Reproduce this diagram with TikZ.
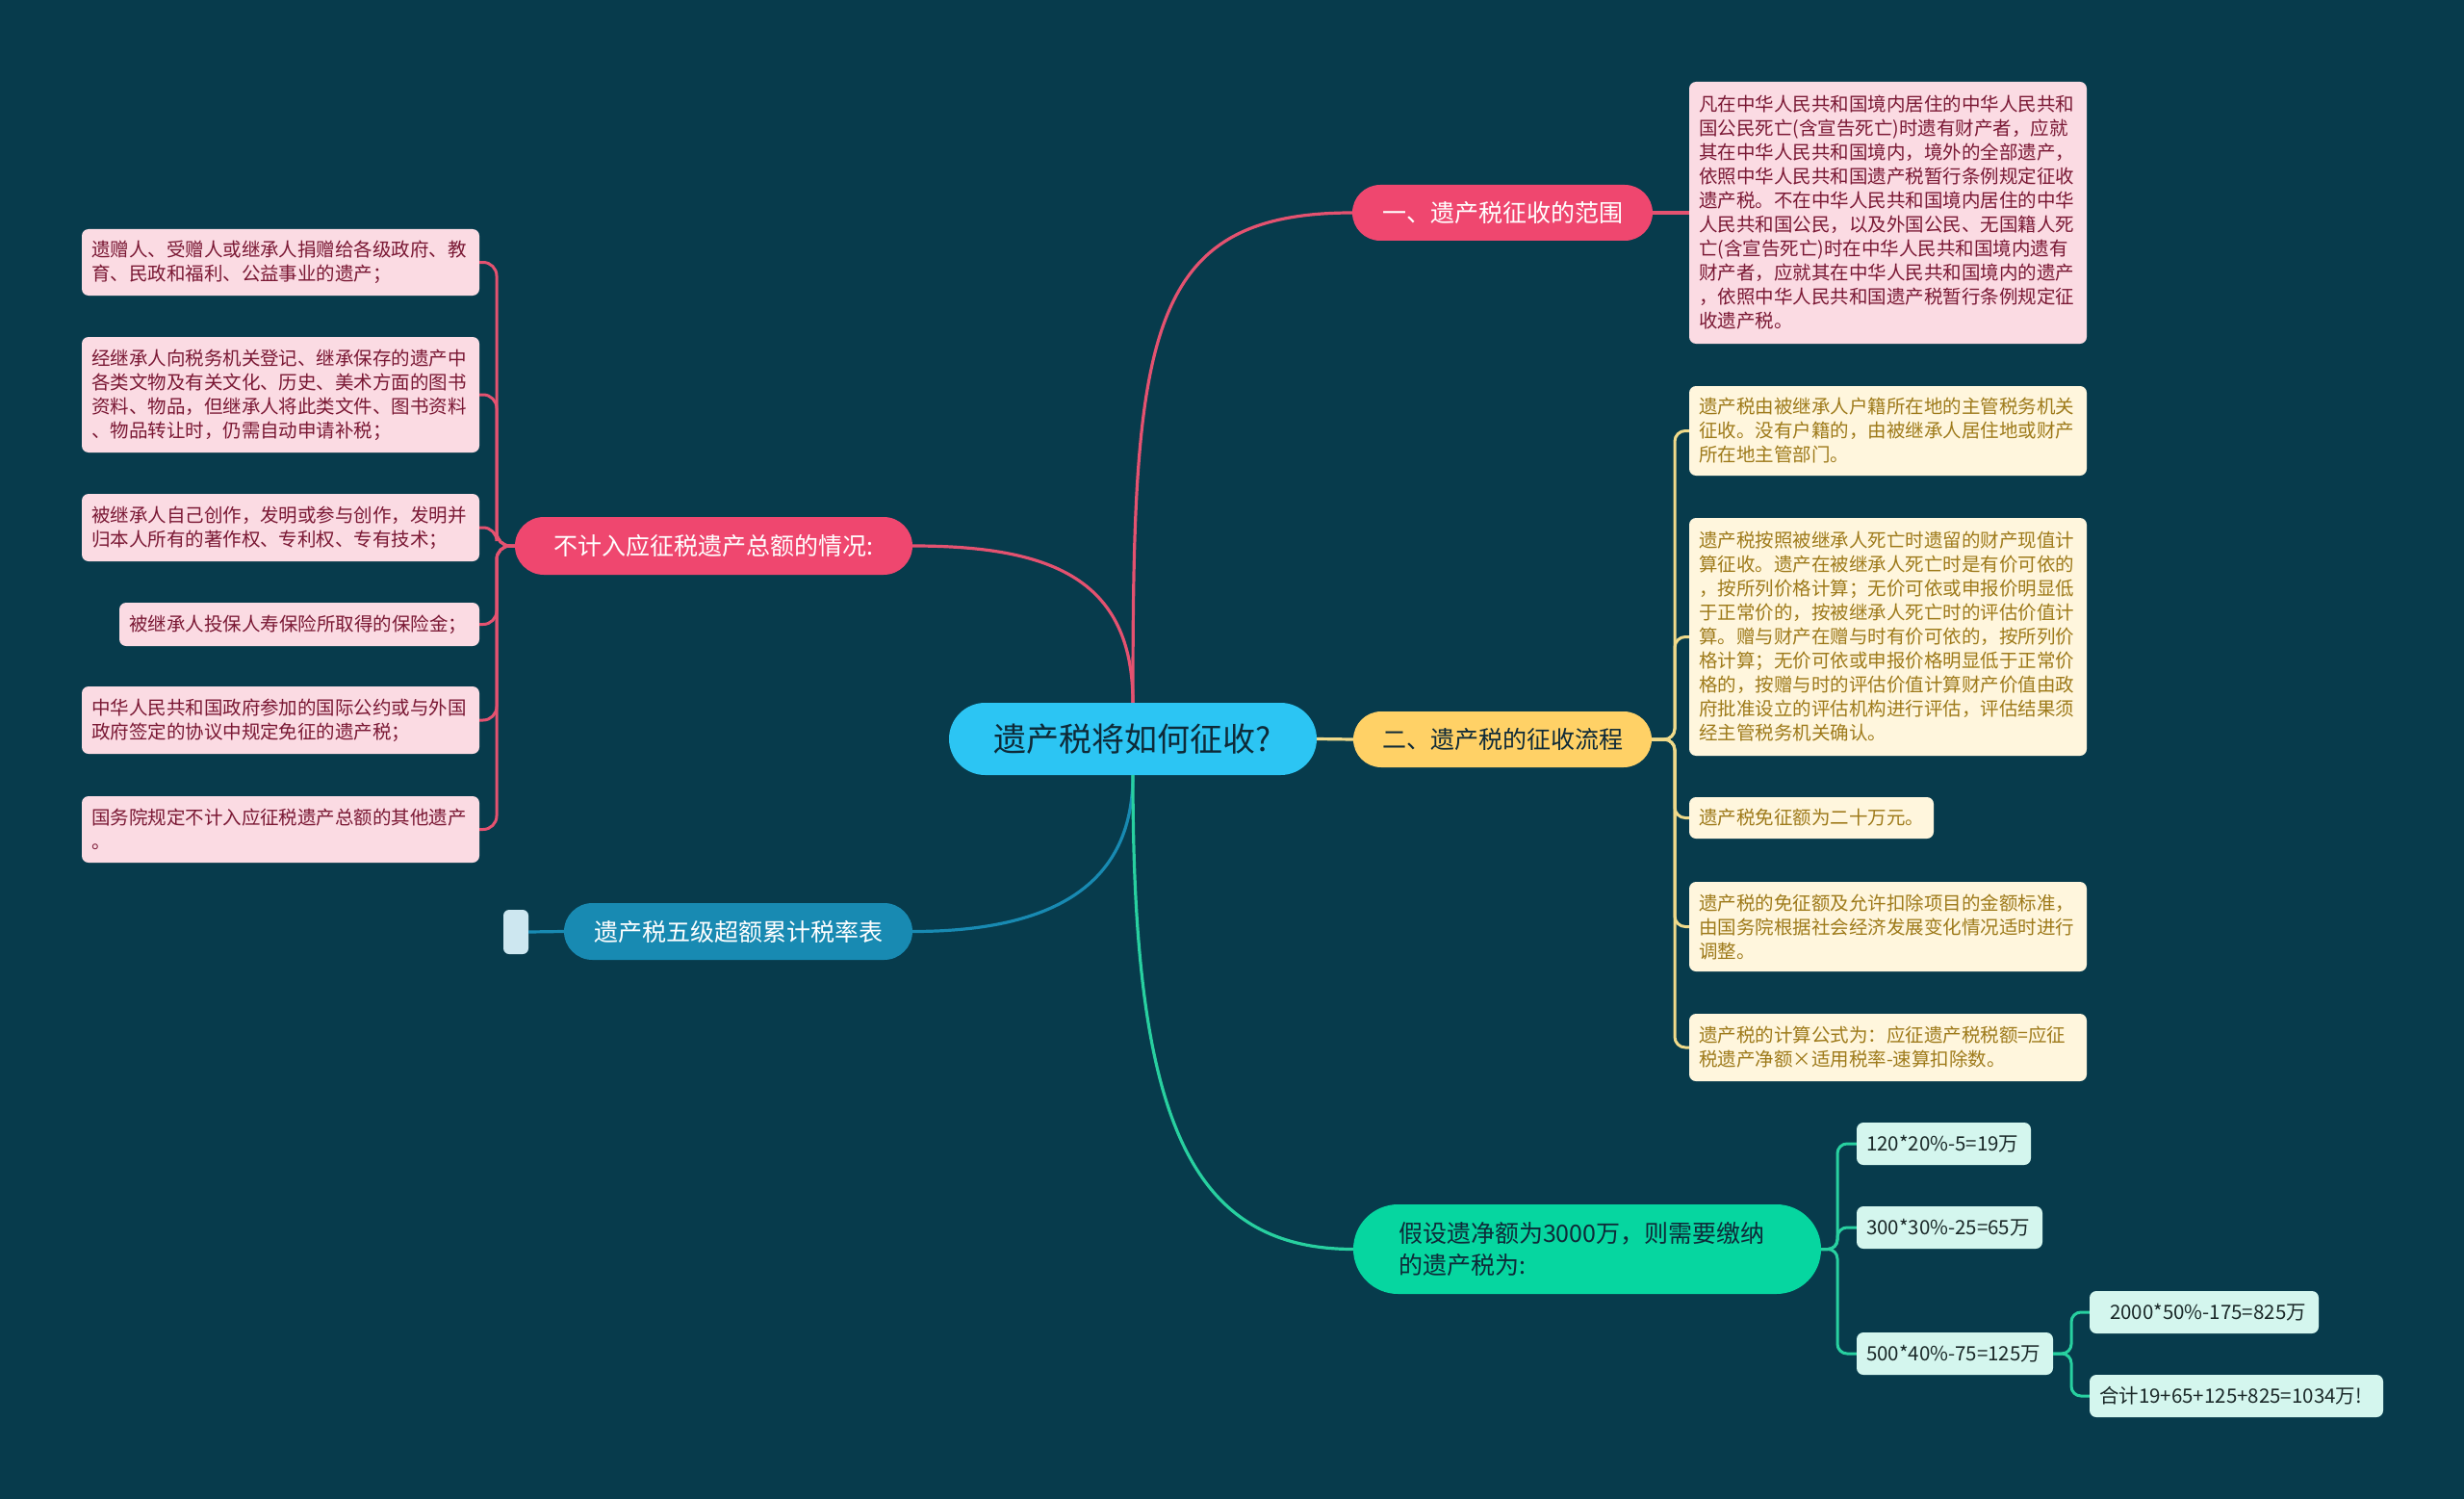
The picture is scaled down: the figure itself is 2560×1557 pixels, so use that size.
\documentclass[tikz,border=0pt]{standalone}
\usepackage{fontspec}
\setmainfont{Noto Sans CJK SC}
\usetikzlibrary{shapes.misc}
\definecolor{bgc}{RGB}{7,59,76}
\definecolor{cenc}{RGB}{44,197,243}
\definecolor{pinkc}{RGB}{239,71,111}
\definecolor{yelc}{RGB}{255,209,102}
\definecolor{grnc}{RGB}{6,214,160}
\definecolor{bluc}{RGB}{24,138,178}
\definecolor{pinkbg}{RGB}{251,219,227}
\definecolor{pinktx}{RGB}{122,24,52}
\definecolor{yelbg}{RGB}{255,246,221}
\definecolor{yeltx}{RGB}{158,122,26}
\definecolor{grnbg}{RGB}{212,246,238}
\definecolor{grntx}{RGB}{26,40,40}
\definecolor{darktx}{RGB}{14,42,56}
\definecolor{sqc}{RGB}{205,231,240}
\definecolor{pinkln}{RGB}{228,82,112}
\definecolor{yelln}{RGB}{240,218,138}
\definecolor{grnln}{RGB}{40,208,160}
\tikzset{
  pill/.style={rounded rectangle, inner xsep=0, inner ysep=0, minimum height=58, font=\fontsize{25}{30}\selectfont},
  detail/.style={rounded corners=7, inner xsep=10, inner ysep=3, align=left, font=\fontsize{19.5}{25}\selectfont},
  pinkd/.style={detail, fill=pinkbg, text=pinktx},
  yeld/.style={detail, fill=yelbg, text=yeltx},
  greend/.style={detail, fill=grnbg, text=grntx, font=\fontsize{20.5}{25}\selectfont, minimum height=44},
  mainln/.style={line width=3.2},
  pinkln2/.style={draw=pinkln, line width=3, rounded corners=14},
  yelln2/.style={draw=yelln, line width=3, rounded corners=11},
  grnln2/.style={draw=grnln, line width=3, rounded corners=10},
}
\begin{document}
\begin{tikzpicture}[x=1pt,y=-1pt]
\fill[bgc] (0,0) rectangle (2560,1557);
\useasboundingbox (0,0) rectangle (2560,1557);

% central and main branches
\node[pill, fill=cenc, text=darktx, minimum width=382, minimum height=75, font=\fontsize{34}{40}\selectfont] (c) at (1177,767.5) {遗产税将如何征收?};
\node[pill, fill=pinkc, text=white, minimum width=312] (b1) at (1561,221) {一、遗产税征收的范围};
\node[pill, fill=yelc, text=darktx, minimum width=310] (b2) at (1561,768) {二、遗产税的征收流程};
\node[pill, fill=grnc, text=darktx, minimum width=486, minimum height=93, align=left, text width=392, font=\fontsize{25}{33}\selectfont] (b3) at (1649,1297.5) {假设遗净额为3000万，则需要缴纳\\的遗产税为:};
\node[pill, fill=pinkc, text=white, minimum width=413, minimum height=60] (bl) at (741.5,567) {不计入应征税遗产总额的情况:};
\node[pill, fill=bluc, text=white, minimum width=362, minimum height=59] (bb) at (767,967.5) {遗产税五级超额累计税率表};
\node[fill=sqc, rounded corners=6, minimum width=26, minimum height=46, inner sep=0] (sq) at (536,968) {};

% right pink detail
\node[pinkd, text width=393, minimum height=272] (p1) at (1961.5,221) {凡在中华人民共和国境内居住的中华人民共和\\国公民死亡(含宣告死亡)时遗有财产者，应就\\其在中华人民共和国境内，境外的全部遗产，\\依照中华人民共和国遗产税暂行条例规定征收\\遗产税。不在中华人民共和国境内居住的中华\\人民共和国公民，以及外国公民、无国籍人死\\亡(含宣告死亡)时在中华人民共和国境内遗有\\财产者，应就其在中华人民共和国境内的遗产\\，依照中华人民共和国遗产税暂行条例规定征\\收遗产税。};

% yellow details
\node[yeld, text width=393, minimum height=93] (y1) at (1961.5,447.5) {遗产税由被继承人户籍所在地的主管税务机关\\征收。没有户籍的，由被继承人居住地或财产\\所在地主管部门。};
\node[yeld, text width=393, minimum height=247] (y2) at (1961.5,661.5) {遗产税按照被继承人死亡时遗留的财产现值计\\算征收。遗产在被继承人死亡时是有价可依的\\，按所列价格计算；无价可依或申报价明显低\\于正常价的，按被继承人死亡时的评估价值计\\算。赠与财产在赠与时有价可依的，按所列价\\格计算；无价可依或申报价格明显低于正常价\\格的，按赠与时的评估价值计算财产价值由政\\府批准设立的评估机构进行评估，评估结果须\\经主管税务机关确认。};
\node[yeld, text width=234, minimum height=43] (y3) at (1882,849.5) {遗产税免征额为二十万元。};
\node[yeld, text width=393, minimum height=93] (y4) at (1961.5,962.5) {遗产税的免征额及允许扣除项目的金额标准，\\由国务院根据社会经济发展变化情况适时进行\\调整。};
\node[yeld, text width=393, minimum height=70] (y5) at (1961.5,1088) {遗产税的计算公式为：应征遗产税税额=应征\\税遗产净额×适用税率-速算扣除数。};

% left pink details
\node[pinkd, text width=393, minimum height=69] (l1) at (291.5,272.5) {遗赠人、受赠人或继承人捐赠给各级政府、教\\育、民政和福利、公益事业的遗产；};
\node[pinkd, text width=393, minimum height=120] (l2) at (291.5,410) {经继承人向税务机关登记、继承保存的遗产中\\各类文物及有关文化、历史、美术方面的图书\\资料、物品，但继承人将此类文件、图书资料\\、物品转让时，仍需自动申请补税；};
\node[pinkd, text width=393, minimum height=70] (l3) at (291.5,548) {被继承人自己创作，发明或参与创作，发明并\\归本人所有的著作权、专利权、专有技术；};
\node[pinkd, text width=354, minimum height=45] (l4) at (311,648.5) {被继承人投保人寿保险所取得的保险金；};
\node[pinkd, text width=393, minimum height=70] (l5) at (291.5,748) {中华人民共和国政府参加的国际公约或与外国\\政府签定的协议中规定免征的遗产税；};
\node[pinkd, text width=393, minimum height=69] (l6) at (291.5,861.5) {国务院规定不计入应征税遗产总额的其他遗产\\。};

% green details
\node[greend, text width=161] (g1) at (2019.5,1188) {120*20\%-5=19万};
\node[greend, text width=173] (g2) at (2025.5,1275) {300*30\%-25=65万};
\node[greend, text width=184] (g3) at (2031,1406) {500*40\%-75=125万};
\node[greend, text width=218] (g4) at (2290,1363) {\hspace*{11pt}2000*50\%-175=825万};
\node[greend, text width=285] (g5) at (2323.5,1450) {合计19+65+125+825=1034万!};

% main connectors
\draw[mainln, draw=pinkln] (c.north) .. controls (1177,350) and (1190,221) .. (b1.west);
\draw[mainln, draw=pinkln] (c.north) .. controls (1177,600) and (1090,567) .. (bl.east);
\draw[mainln, draw=pinkln] (b1.east) -- (p1.west);
\draw[mainln, draw=yelln] (c.east) -- (b2.west);
\draw[mainln, draw=bluc] (c.south) .. controls (1177,900) and (1120,967.5) .. (bb.east);
\draw[mainln, draw=bluc] (sq.east) -- (bb.west);
\draw[mainln, draw=grnln] (c.south) .. controls (1177,1150) and (1230,1297.5) .. (b3.west);

% left children
\foreach \n in {l1,l2,l3,l4,l5,l6}
  \draw[pinkln2] (bl.west) -- (516,567) |- (\n.east);
% yellow children
\foreach \n in {y1,y2,y3,y4,y5}
  \draw[yelln2] (b2.east) -- (1740,768) |- (\n.west);
% green children
\foreach \n in {g1,g2,g3}
  \draw[grnln2] (b3.east) -- (1909,1297.5) |- (\n.west);
\foreach \n in {g4,g5}
  \draw[grnln2] (g3.east) -- (2152,1406) |- (\n.west);
\end{tikzpicture}
\end{document}
